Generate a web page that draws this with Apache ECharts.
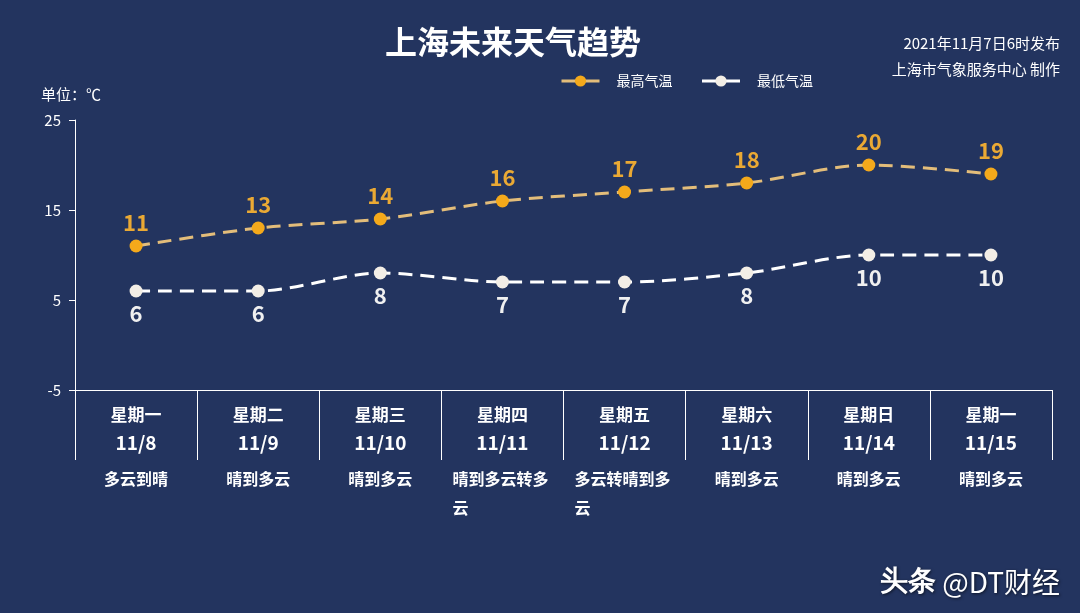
<!DOCTYPE html>
<html>
<head>
<meta charset="utf-8">
<script src="https://cdn.jsdelivr.net/npm/echarts@6/dist/echarts.min.js"></script>
<style>
html, body { margin: 0; padding: 0; background: #23345f; }
#main { width: 1080px; height: 613px; }
</style>
</head>
<body>
<div id="main"></div>
<script>
var weekDays = ['星期一', '星期二', '星期三', '星期四', '星期五', '星期六', '星期日', '星期一'];
var dates = ['11/8', '11/9', '11/10', '11/11', '11/12', '11/13', '11/14', '11/15'];
var weathers = ['多云到晴', '晴到多云', '晴到多云', '晴到多云转多云', '多云转晴到多云', '晴到多云', '晴到多云', '晴到多云'];
var highTemps = [11, 13, 14, 16, 17, 18, 20, 19];
var lowTemps = [6, 6, 8, 7, 7, 8, 10, 10];
var yMin = -5, yMax = 25, yStep = 10;

var font = 'Noto Sans CJK SC';

// long weather strings wrap, short ones stay centered
function weatherData() {
	var arr = [];
	for (var i = 0; i < weathers.length; i++) {
		var item = { value: weathers[i] };
		if (weathers[i].length > 6) {
			item.textStyle = { width: 100, overflow: 'break' };
		}
		arr.push(item);
	}
	return arr;
}

function dayData() {
	var arr = [];
	for (var i = 0; i < weekDays.length; i++) {
		arr.push(weekDays[i] + '|' + dates[i]);
	}
	return arr;
}

var option = {
	backgroundColor: '#23345f',
	textStyle: { fontFamily: font },
	title: {
		text: '上海未来天气趋势',
		left: 508,
		textAlign: 'center',
		top: 21,
		textStyle: { color: '#ffffff', fontSize: 32, fontWeight: 'bold', fontFamily: font }
	},
	legend: {
		left: 560,
		top: 74,
		padding: 0,
		itemWidth: 38,
		itemHeight: 14,
		itemGap: 28,
		textStyle: { color: '#ffffff', fontSize: 14, padding: [0, 0, 0, 12] },
		// legend line drawn solid like the reference
		lineStyle: { type: [60, 1], width: 3 },
		data: ['最高气温', '最低气温']
	},
	grid: {
		left: 75,
		right: 28,
		top: 120,
		bottom: 223
	},
	graphic: [{
		type: 'text',
		x: 1060,
		y: 30,
		style: {
			text: '2021年11月7日6时发布\n上海市气象服务中心 制作',
			fill: '#ffffff',
			fontSize: 15,
			fontFamily: font,
			lineHeight: 26,
			align: 'right'
		}
	}, {
		type: 'text',
		right: 20,
		bottom: 17,
		style: {
			text: '{b|头条} @DT财经',
			fill: '#ffffff',
			fontSize: 28,
			fontFamily: font,
			textShadowColor: 'rgba(0,0,0,0.6)',
			textShadowBlur: 3,
			textShadowOffsetX: 1,
			textShadowOffsetY: 1,
			rich: { b: { fontWeight: 'bold', fontSize: 28, fill: '#ffffff' } }
		}
	}],
	xAxis: [{
		type: 'category',
		data: dayData(),
		boundaryGap: true,
		axisLine: { onZero: false, lineStyle: { color: '#ffffff', width: 1 } },
		axisTick: { show: true, length: 70, interval: 0, lineStyle: { color: '#ffffff' } },
		axisLabel: {
			interval: 0,
			margin: 11,
			color: '#ffffff',
			formatter: function(v) {
				var p = v.split('|');
				return '{d|' + p[0] + '}\n{t|' + p[1] + '}';
			},
			rich: {
				d: { fontSize: 17, fontWeight: 'bold', color: '#ffffff', lineHeight: 28 },
				t: { fontSize: 19, fontWeight: 'bold', color: '#ffffff', lineHeight: 28 }
			}
		}
	}, {
		type: 'category',
		position: 'bottom',
		offset: 74,
		data: weatherData(),
		axisLine: { show: false, onZero: false },
		axisTick: { show: false },
		axisLabel: {
			interval: 0,
			margin: 0,
			color: '#ffffff',
			formatter: function(v) {
				return '{w|' + v + '}';
			},
			rich: {
				w: { fontSize: 16, fontWeight: 'bold', color: '#ffffff', lineHeight: 29, align: 'left' }
			}
		}
	}],
	yAxis: [{
		type: 'value',
		min: yMin,
		max: yMax,
		interval: yStep,
		name: '单位：℃',
		nameGap: 18,
		nameTextStyle: { color: '#ffffff', fontSize: 15, align: 'right', padding: [0, -26, 0, 0] },
		axisLine: { show: true, lineStyle: { color: '#ffffff' } },
		axisTick: { show: true, length: 6, lineStyle: { color: '#ffffff' } },
		axisLabel: { color: '#ffffff', fontSize: 15, margin: 14 },
		splitLine: { show: false }
	}],
	series: [{
		name: '最高气温',
		type: 'line',
		data: highTemps,
		smooth: 0.3,
		symbol: 'circle',
		symbolSize: 13,
		itemStyle: { color: '#f4a91b' },
		lineStyle: { color: '#e3bd7a', width: 3, type: [14, 8] },
		label: {
			show: true,
			position: 'top',
			distance: 6,
			color: '#eaa934',
			fontSize: 22,
			fontWeight: 'bold'
		}
	}, {
		name: '最低气温',
		type: 'line',
		data: lowTemps,
		smooth: 0.3,
		symbol: 'circle',
		symbolSize: 13,
		itemStyle: { color: '#f3eee6' },
		lineStyle: { color: '#ffffff', width: 3, type: [14, 8] },
		label: {
			show: true,
			position: 'bottom',
			distance: 5,
			color: '#f0f0f0',
			fontSize: 22,
			fontWeight: 'bold'
		}
	}]
};

var chart = echarts.init(document.getElementById('main'));
chart.setOption(option);
</script>
</body>
</html>
